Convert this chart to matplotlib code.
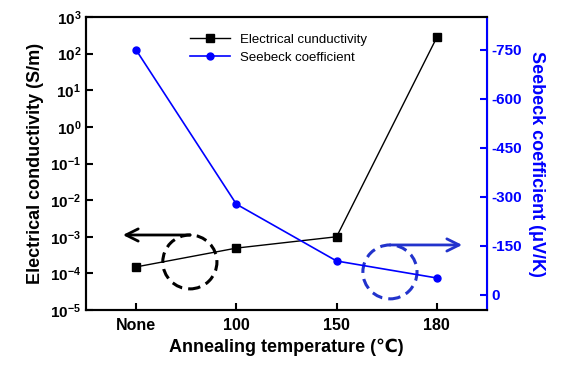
import numpy as np
import matplotlib.pyplot as plt
import matplotlib.transforms as mtransforms
from matplotlib.patches import Ellipse

plt.rcParams['font.family'] = ['Liberation Sans', 'DejaVu Sans']
plt.rcParams['mathtext.fontset'] = 'custom'
plt.rcParams['mathtext.bf'] = 'Liberation Sans:bold'
plt.rcParams['mathtext.rm'] = 'Liberation Sans'

# Data
categories = ['None', '100', '150', '180']
conductivity = [1.5e-4, 4.9e-4, 1.0e-3, 280]
seebeck = [-750, -278, -104, -52]
cond_ticks = [1e-5, 1e-4, 1e-3, 1e-2, 1e-1, 1e0, 1e1, 1e2, 1e3]
seebeck_ticks = [0, -150, -300, -450, -600, -750]

blue = '#0000ff'
x = np.arange(len(categories))

fig = plt.figure(figsize=(5.73, 3.73), dpi=100)
ax = fig.add_axes([86/573, 1 - 310/373, 401/573, 293/373])
ax2 = ax.twinx()

l1, = ax.plot(x, conductivity, '-s', color='black', lw=1, ms=6)
l2, = ax2.plot(x, seebeck, '-o', color=blue, lw=1.2, ms=5)

ax.set_yscale('log')
ax.set_ylim(1e-5, 1e3)
ax.set_yticks(cond_ticks)
ax.set_yticklabels([r'$\mathbf{10^{%d}}$' % int(np.log10(t)) for t in cond_ticks])
ax.minorticks_off()
ax.set_xlim(-0.5, 3.5)
ax.set_xticks(x)
ax.set_xticklabels(categories, fontweight='bold', fontsize=11.5)
# "None" sits a little higher than the numbers
none_lab = ax.get_xticklabels()[0]
none_lab.set_transform(none_lab.get_transform() +
                       mtransforms.ScaledTranslation(0, 4/72, fig.dpi_scale_trans))
ax.tick_params(axis='y', labelsize=11, direction='in', length=5, width=1.5)
ax.tick_params(axis='x', direction='in', length=5, width=1.5, pad=6)
ax.set_xlabel('Annealing temperature (℃)', fontsize=13, fontweight='bold')
ax.set_ylabel('Electrical conductivity (S/m)', fontsize=13, fontweight='bold')

ax2.set_ylim(46, -851)
ax2.set_yticks(seebeck_ticks)
ax2.set_yticklabels([str(t) for t in seebeck_ticks], fontweight='bold')
ax2.tick_params(axis='y', colors=blue, labelsize=11, direction='in', length=5, width=1.5)
ax2.set_ylabel('Seebeck coefficient (μV/K)', fontsize=13, fontweight='bold', color=blue,
               rotation=270, labelpad=16)

for s in ['left', 'bottom', 'top']:
    ax.spines[s].set_linewidth(1.5)
    ax2.spines[s].set_linewidth(1.5)
ax2.spines['right'].set_color(blue)
ax2.spines['right'].set_linewidth(1.5)

ax.legend([l1, l2], ['Electrical cunductivity', 'Seebeck coefficient'],
          loc='upper left', bbox_to_anchor=(0.23, 0.985), frameon=False,
          fontsize=9.5, handlelength=3, labelspacing=0.45)

# annotation circles and arrows
ax2.add_patch(Ellipse((0.259, 0.164), 0.135, 0.184, transform=ax2.transAxes,
                      fill=False, ls=(0, (3.5, 2)), lw=2.2, color='black'))
ax2.add_patch(Ellipse((0.758, 0.130), 0.135, 0.184, transform=ax2.transAxes,
                      fill=False, ls=(0, (3.5, 2)), lw=2.2, color='#2233cc'))
ax2.annotate('', xy=(0.085, 0.256), xytext=(0.267, 0.256), xycoords='axes fraction',
             arrowprops=dict(arrowstyle='->', color='black', lw=2, mutation_scale=22))
ax2.annotate('', xy=(0.945, 0.222), xytext=(0.751, 0.222), xycoords='axes fraction',
             arrowprops=dict(arrowstyle='->', color='#2233cc', lw=2, mutation_scale=22))

plt.savefig('out.png', dpi=100)
